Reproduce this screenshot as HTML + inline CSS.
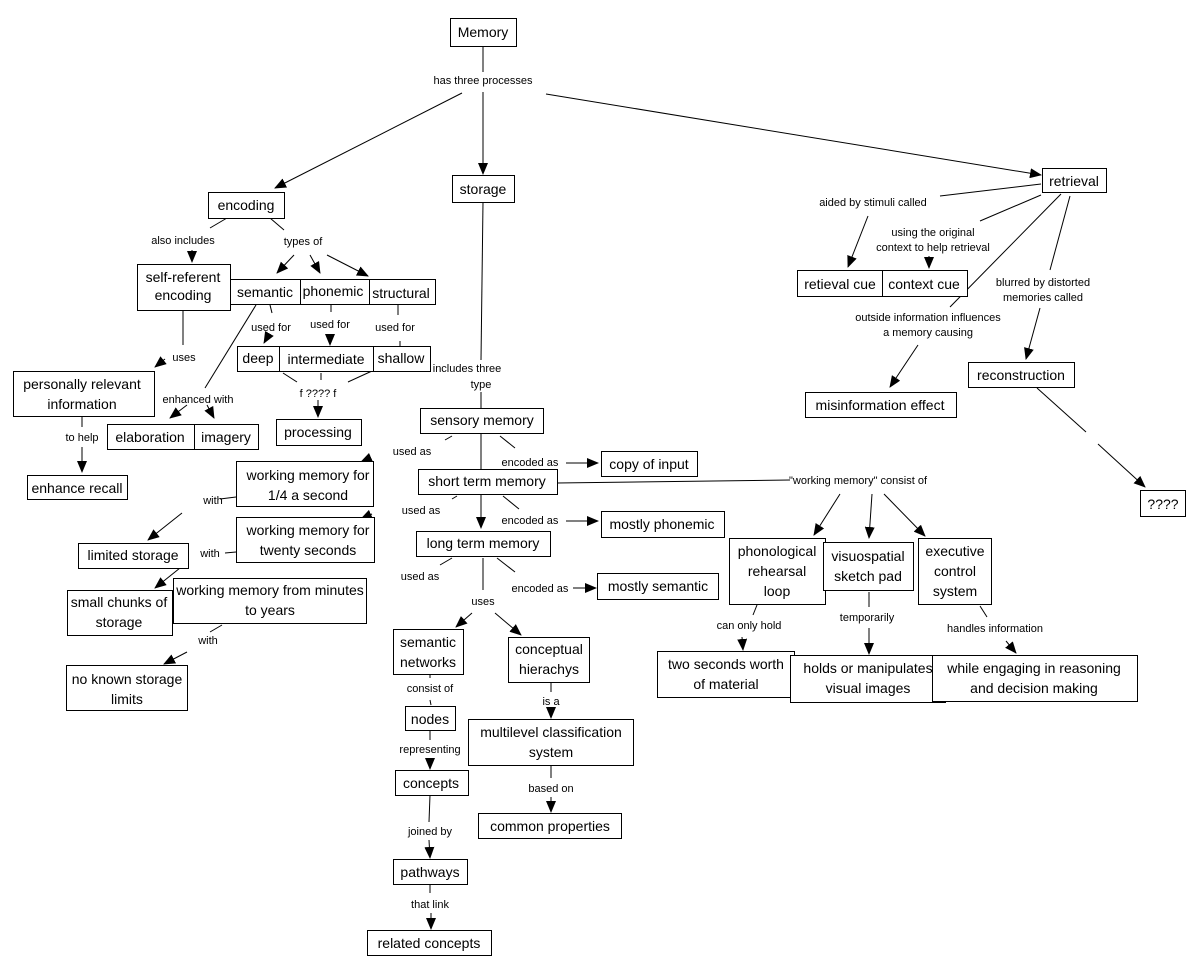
<!DOCTYPE html>
<html><head><meta charset="utf-8"><style>
html,body{margin:0;padding:0;background:#fff;}
svg{display:block;font-family:"Liberation Sans","DejaVu Sans",sans-serif;}
.n rect{fill:#fff;stroke:#000;stroke-width:1;}
.n text{font-size:14px;text-anchor:middle;fill:#000;}
.l{font-size:11px;text-anchor:middle;fill:#000;}
line{stroke:#000;stroke-width:1;}
line.a{marker-end:url(#ar);}
</style></head><body>
<svg width="1200" height="977" viewBox="0 0 1200 977" xmlns="http://www.w3.org/2000/svg">
<defs><marker id="ar" markerWidth="12" markerHeight="10" refX="11" refY="5" orient="auto" markerUnits="userSpaceOnUse"><path d="M0,0 L12,5 L0,10 z" fill="#000"/></marker></defs>
<rect width="1200" height="977" fill="#fff"/>
<!-- lines -->
<line x1="483" y1="46" x2="483" y2="72"/>
<line class="a" x1="462" y1="93" x2="275" y2="188"/>
<line class="a" x1="483" y1="92" x2="483" y2="174"/>
<line class="a" x1="546" y1="94" x2="1041" y2="175"/>
<line x1="227" y1="218" x2="210" y2="228"/>
<line class="a" x1="192" y1="250" x2="192" y2="262"/>
<line x1="270" y1="218" x2="284" y2="230"/>
<line class="a" x1="294" y1="255" x2="277" y2="273"/>
<line class="a" x1="310" y1="255" x2="320" y2="273"/>
<line class="a" x1="327" y1="255" x2="368" y2="276"/>
<line x1="270" y1="305" x2="272" y2="313"/>
<line class="a" x1="268" y1="336" x2="264" y2="343"/>
<line x1="331" y1="305" x2="331" y2="312"/>
<line class="a" x1="330" y1="334" x2="330" y2="345"/>
<line x1="398" y1="305" x2="398" y2="315"/>
<line x1="400" y1="341" x2="400" y2="346"/>
<line x1="283" y1="373" x2="297" y2="382"/>
<line x1="321" y1="373" x2="321" y2="380"/>
<line x1="348" y1="382" x2="372" y2="371"/>
<line class="a" x1="318" y1="400" x2="318" y2="417"/>
<line x1="256" y1="305" x2="205" y2="388"/>
<line class="a" x1="187" y1="405" x2="170" y2="418"/>
<line class="a" x1="207" y1="405" x2="214" y2="418"/>
<line x1="183" y1="311" x2="183" y2="345"/>
<line class="a" x1="165" y1="359" x2="155" y2="367"/>
<line x1="82" y1="416" x2="82" y2="427"/>
<line class="a" x1="82" y1="447" x2="82" y2="472"/>
<line x1="483" y1="202" x2="481" y2="360"/>
<line x1="481" y1="392" x2="481" y2="408"/>
<line x1="481" y1="433" x2="481" y2="469"/>
<line x1="452" y1="436" x2="445" y2="440"/>
<line class="a" x1="370" y1="458" x2="361" y2="462"/>
<line x1="500" y1="436" x2="515" y2="448"/>
<line class="a" x1="566" y1="463" x2="598" y2="463"/>
<line class="a" x1="481" y1="494" x2="481" y2="528"/>
<line x1="457" y1="496" x2="452" y2="499"/>
<line class="a" x1="372" y1="514" x2="361" y2="519"/>
<line x1="503" y1="496" x2="519" y2="509"/>
<line class="a" x1="566" y1="521" x2="598" y2="521"/>
<line x1="557" y1="483" x2="790" y2="480"/>
<line class="a" x1="840" y1="494" x2="814" y2="535"/>
<line class="a" x1="872" y1="494" x2="869" y2="538"/>
<line class="a" x1="884" y1="494" x2="925" y2="536"/>
<line x1="452" y1="558" x2="440" y2="565"/>
<line x1="497" y1="558" x2="515" y2="572"/>
<line class="a" x1="573" y1="588" x2="596" y2="588"/>
<line x1="483" y1="558" x2="483" y2="590"/>
<line class="a" x1="472" y1="613" x2="456" y2="627"/>
<line class="a" x1="495" y1="613" x2="521" y2="635"/>
<line x1="236" y1="497" x2="220" y2="499"/>
<line class="a" x1="182" y1="513" x2="148" y2="540"/>
<line x1="236" y1="552" x2="225" y2="553"/>
<line class="a" x1="180" y1="568" x2="155" y2="588"/>
<line x1="222" y1="625" x2="210" y2="632"/>
<line class="a" x1="187" y1="652" x2="164" y2="664"/>
<line x1="430" y1="674" x2="430" y2="678"/>
<line x1="430" y1="700" x2="431" y2="705"/>
<line x1="430" y1="730" x2="430" y2="740"/>
<line class="a" x1="430" y1="758" x2="430" y2="769"/>
<line x1="430" y1="795" x2="429" y2="822"/>
<line class="a" x1="429" y1="840" x2="430" y2="858"/>
<line x1="430" y1="884" x2="430" y2="893"/>
<line class="a" x1="431" y1="913" x2="431" y2="929"/>
<line x1="551" y1="683" x2="551" y2="692"/>
<line class="a" x1="551" y1="708" x2="551" y2="718"/>
<line x1="551" y1="766" x2="551" y2="778"/>
<line class="a" x1="551" y1="797" x2="551" y2="812"/>
<line x1="1041" y1="184" x2="940" y2="196"/>
<line class="a" x1="868" y1="216" x2="848" y2="267"/>
<line x1="1041" y1="195" x2="980" y2="221"/>
<line class="a" x1="929" y1="256" x2="929" y2="268"/>
<line x1="1061" y1="194" x2="950" y2="307"/>
<line class="a" x1="918" y1="345" x2="890" y2="387"/>
<line x1="1070" y1="196" x2="1050" y2="270"/>
<line class="a" x1="1040" y1="308" x2="1026" y2="359"/>
<line x1="1037" y1="388" x2="1086" y2="432"/>
<line class="a" x1="1098" y1="444" x2="1145" y2="487"/>
<line x1="757" y1="605" x2="753" y2="615"/>
<line class="a" x1="742" y1="637" x2="743" y2="650"/>
<line x1="869" y1="592" x2="869" y2="607"/>
<line class="a" x1="869" y1="628" x2="869" y2="654"/>
<line x1="980" y1="606" x2="987" y2="617"/>
<line class="a" x1="1006" y1="641" x2="1016" y2="653"/>
<!-- labels -->
<g class="l">
<text x="483" y="84">has three processes</text>
<text x="183" y="244">also includes</text>
<text x="303" y="245">types of</text>
<text x="271" y="331">used for</text>
<text x="330" y="328">used for</text>
<text x="395" y="331">used for</text>
<text x="318" y="397">f ???? f</text>
<text x="184" y="361">uses</text>
<text x="198" y="403">enhanced with</text>
<text x="82" y="441">to help</text>
<text x="467" y="372">includes three</text>
<text x="481" y="388">type</text>
<text x="412" y="455">used as</text>
<text x="530" y="466">encoded as</text>
<text x="213" y="504">with</text>
<text x="421" y="514">used as</text>
<text x="530" y="524">encoded as</text>
<text x="210" y="557">with</text>
<text x="420" y="580">used as</text>
<text x="540" y="592">encoded as</text>
<text x="483" y="605">uses</text>
<text x="208" y="644">with</text>
<text x="430" y="692">consist of</text>
<text x="430" y="753">representing</text>
<text x="430" y="835">joined by</text>
<text x="430" y="908">that link</text>
<text x="551" y="705">is a</text>
<text x="551" y="792">based on</text>
<text x="873" y="206">aided by stimuli called</text>
<text x="933" y="236">using the original</text>
<text x="933" y="251">context to help retrieval</text>
<text x="1043" y="286">blurred by distorted</text>
<text x="1043" y="301">memories called</text>
<text x="928" y="321">outside information influences</text>
<text x="928" y="336">a memory causing</text>
<text x="858" y="484">"working memory" consist of</text>
<text x="749" y="629">can only hold</text>
<text x="867" y="621">temporarily</text>
<text x="995" y="632">handles information</text>
</g>
<!-- nodes -->
<g class="n">
<rect x="450.5" y="18.5" width="66" height="28"/><text x="483" y="37">Memory</text>
<rect x="452.5" y="175.5" width="62" height="27"/><text x="483" y="194">storage</text>
<rect x="208.5" y="192.5" width="76" height="26"/><text x="246" y="210">encoding</text>
<rect x="1042.5" y="168.5" width="64" height="24"/><text x="1074" y="186">retrieval</text>
<rect x="137.5" y="264.5" width="93" height="46"/><text x="183" y="282">self-referent</text><text x="183" y="300">encoding</text>
<rect x="230.5" y="279.5" width="70" height="25"/><text x="265" y="297">semantic</text>
<rect x="300.5" y="279.5" width="69" height="25"/><text x="333" y="296">phonemic</text>
<rect x="369.5" y="279.5" width="66" height="25"/><text x="401" y="298">structural</text>
<rect x="237.5" y="346.5" width="42" height="25"/><text x="258" y="363">deep</text>
<rect x="279.5" y="346.5" width="95" height="25"/><text x="326" y="364">intermediate</text>
<rect x="373.5" y="346.5" width="57" height="25"/><text x="401" y="363">shallow</text>
<rect x="13.5" y="371.5" width="141" height="45"/><text x="82" y="389">personally relevant</text><text x="82" y="409">information</text>
<rect x="107.5" y="424.5" width="87" height="25"/><text x="150" y="442">elaboration</text>
<rect x="194.5" y="424.5" width="64" height="25"/><text x="226" y="442">imagery</text>
<rect x="276.5" y="419.5" width="85" height="26"/><text x="318" y="437">processing</text>
<rect x="27.5" y="475.5" width="100" height="24"/><text x="77" y="493">enhance recall</text>
<rect x="420.5" y="408.5" width="123" height="25"/><text x="482" y="425">sensory memory</text>
<rect x="418.5" y="469.5" width="139" height="25"/><text x="487" y="486">short term memory</text>
<rect x="416.5" y="531.5" width="134" height="25"/><text x="483" y="548">long term memory</text>
<rect x="601.5" y="451.5" width="96" height="25"/><text x="649" y="469">copy of input</text>
<rect x="601.5" y="511.5" width="123" height="26"/><text x="662" y="529">mostly phonemic</text>
<rect x="597.5" y="573.5" width="121" height="26"/><text x="658" y="591">mostly semantic</text>
<rect x="236.5" y="461.5" width="137" height="45"/><text x="308" y="480">working memory for</text><text x="308" y="500">1/4 a second</text>
<rect x="236.5" y="517.5" width="138" height="45"/><text x="308" y="535">working memory for</text><text x="308" y="555">twenty seconds</text>
<rect x="78.5" y="543.5" width="110" height="25"/><text x="133" y="560">limited storage</text>
<rect x="173.5" y="578.5" width="193" height="45"/><text x="270" y="595">working memory from minutes</text><text x="270" y="615">to years</text>
<rect x="67.5" y="590.5" width="105" height="45"/><text x="119" y="607">small chunks of</text><text x="119" y="627">storage</text>
<rect x="66.5" y="665.5" width="121" height="45"/><text x="127" y="684">no known storage</text><text x="127" y="704">limits</text>
<rect x="393.5" y="629.5" width="70" height="45"/><text x="428" y="647">semantic</text><text x="428" y="667">networks</text>
<rect x="508.5" y="637.5" width="81" height="45"/><text x="549" y="654">conceptual</text><text x="549" y="674">hierachys</text>
<rect x="405.5" y="706.5" width="50" height="24"/><text x="430" y="724">nodes</text>
<rect x="468.5" y="719.5" width="165" height="46"/><text x="551" y="737">multilevel classification</text><text x="551" y="757">system</text>
<rect x="395.5" y="770.5" width="73" height="25"/><text x="431" y="788">concepts</text>
<rect x="478.5" y="813.5" width="143" height="25"/><text x="550" y="831">common properties</text>
<rect x="393.5" y="859.5" width="74" height="25"/><text x="430" y="877">pathways</text>
<rect x="367.5" y="930.5" width="124" height="25"/><text x="429" y="948">related concepts</text>
<rect x="797.5" y="270.5" width="85" height="26"/><text x="840" y="289">retieval cue</text>
<rect x="882.5" y="270.5" width="85" height="26"/><text x="924" y="289">context cue</text>
<rect x="805.5" y="392.5" width="151" height="25"/><text x="880" y="410">misinformation effect</text>
<rect x="968.5" y="362.5" width="106" height="25"/><text x="1021" y="380">reconstruction</text>
<rect x="1140.5" y="490.5" width="45" height="26"/><text x="1163" y="509">????</text>
<rect x="729.5" y="538.5" width="96" height="66"/><text x="777" y="556">phonological</text><text x="777" y="576">rehearsal</text><text x="777" y="596">loop</text>
<rect x="823.5" y="542.5" width="90" height="48"/><text x="868" y="561">visuospatial</text><text x="868" y="581">sketch pad</text>
<rect x="918.5" y="538.5" width="73" height="66"/><text x="955" y="556">executive</text><text x="955" y="576">control</text><text x="955" y="596">system</text>
<rect x="657.5" y="651.5" width="137" height="46"/><text x="726" y="669">two seconds worth</text><text x="726" y="689">of material</text>
<rect x="790.5" y="655.5" width="155" height="47"/><text x="868" y="673">holds or manipulates</text><text x="868" y="693">visual images</text>
<rect x="932.5" y="655.5" width="205" height="46"/><text x="1034" y="673">while engaging in reasoning</text><text x="1034" y="693">and decision making</text>
</g>
</svg>
</body></html>
